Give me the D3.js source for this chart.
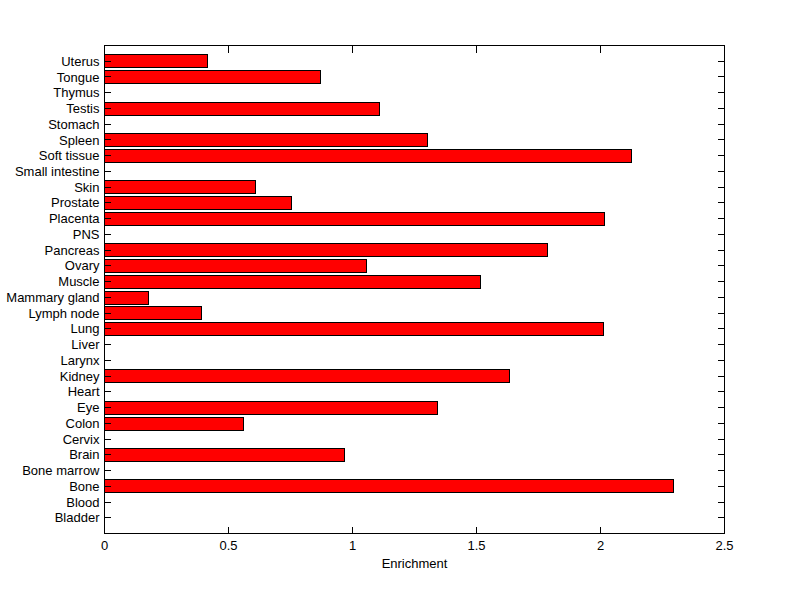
<!DOCTYPE html>
<html><head><meta charset="utf-8">
<script src="https://cdn.jsdelivr.net/npm/d3@7"></script>
<style>body{margin:0;background:#fff}svg{display:block}text{font-family:"Liberation Sans",Arial,sans-serif;font-size:13px;fill:#000}</style>
</head><body>
<script>
const categories = ["Bladder","Blood","Bone","Bone marrow","Brain","Cervix","Colon","Eye","Heart","Kidney","Larynx","Liver","Lung","Lymph node","Mammary gland","Muscle","Ovary","Pancreas","PNS","Placenta","Prostate","Skin","Small intestine","Soft tissue","Spleen","Stomach","Testis","Thymus","Tongue","Uterus"];
const values = [0,0,2.294,0,0.967,0,0.560,1.342,0,1.633,0,0,2.012,0.391,0.177,1.516,1.056,1.786,0,2.016,0.754,0.608,0,2.125,1.304,0,1.107,0,0.871,0.415];
const xTicks = [0,0.5,1,1.5,2,2.5];
const xLabel = "Enrichment";

const W=800,H=599, L=104.5, R=724.5, T=45.5, B=533.5;
const svg=d3.select("body").append("svg").attr("width",W).attr("height",H);
const x=d3.scaleLinear().domain([0,2.5]).range([L,R]);
const y=d3.scaleLinear().domain([0,categories.length+1]).range([B,T]);
const bh=(y(0)-y(0.8));
const data=categories.map((c,i)=>({c,v:values[i],p:i+1}));

svg.append("g").attr("shape-rendering","crispEdges").selectAll("rect").data(data.filter(d=>d.v>0)).join("rect")
 .attr("x",x(0)).attr("y",d=>Math.floor(y(d.p)-bh/2)+0.5).attr("width",d=>Math.round(x(d.v)-x(0))).attr("height",Math.round(bh))
 .attr("fill","#ff0000").attr("stroke","#000").attr("stroke-width",1);

const tl=7;
const g=svg.append("g").attr("stroke","#000").attr("stroke-width",1).attr("shape-rendering","crispEdges");
g.append("rect").attr("x",L).attr("y",T).attr("width",R-L).attr("height",B-T).attr("fill","none");
xTicks.forEach(t=>{
  g.append("line").attr("x1",x(t)).attr("x2",x(t)).attr("y1",B).attr("y2",B-tl);
  g.append("line").attr("x1",x(t)).attr("x2",x(t)).attr("y1",T).attr("y2",T+tl);
});
data.forEach(d=>{
  g.append("line").attr("x1",L).attr("x2",L+6).attr("y1",y(d.p)).attr("y2",y(d.p));
  g.append("line").attr("x1",R).attr("x2",R-7).attr("y1",y(d.p)).attr("y2",y(d.p));
});
svg.append("g").selectAll("text").data(xTicks).join("text")
 .attr("x",d=>x(d)).attr("y",B+16).attr("text-anchor","middle").text(d=>d3.format("")(d));
svg.append("g").selectAll("text").data(data).join("text")
 .attr("x",L-5).attr("y",d=>y(d.p)).attr("dy","0.35em").attr("text-anchor","end").text(d=>d.c);
svg.append("text").attr("x",(L+R)/2).attr("y",B+34).attr("text-anchor","middle").text(xLabel);
</script>
</body></html>
